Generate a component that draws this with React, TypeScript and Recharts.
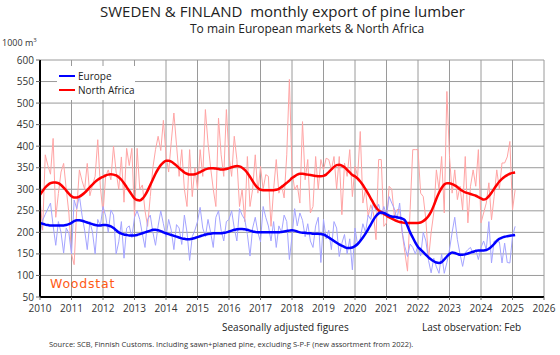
import React from 'react';
import { LineChart, Line, XAxis, YAxis, CartesianGrid } from 'recharts';

// monthly values, Jan 2010 .. Feb 2025 (1000 m3)
const europeMonthly = [
  195, 228, 242, 255, 268, 215, 170, 225, 200, 152, 210, 198,
  150, 275, 255, 285, 240, 205, 160, 225, 200, 150, 230, 215,
  260, 238, 200, 252, 240, 150, 178, 225, 140, 210, 215, 188,
  235, 250, 230, 196, 165, 230, 240, 200, 170, 215, 250, 220,
  190, 230, 205, 160, 218, 210, 172, 240, 200, 135, 190, 205,
  225, 258, 210, 190, 230, 200, 165, 235, 250, 205, 180, 225,
  230, 250, 210, 180, 255, 240, 230, 195, 145, 210, 235, 200,
  178, 260, 235, 215, 180, 225, 165, 215, 200, 240, 225, 137,
  190, 255, 215, 245, 228, 190, 220, 180, 165, 215, 235, 130,
  230, 185, 205, 160, 225, 210, 144, 175, 195, 150, 185, 113,
  210, 170, 185, 220, 200, 240, 230, 268, 250, 265, 240, 260,
  240, 283, 268, 255, 230, 268, 200, 167, 144, 173, 165, 150,
  170, 145, 200, 180, 135, 106, 140, 120, 105, 150, 105, 130,
  160, 200, 235, 183, 150, 121, 153, 160, 165, 150, 160, 137,
  165, 180, 160, 225, 129, 180, 178, 178, 129, 175, 130, 129,
  191, 214,
];

const europeTrend = [
  222, 220, 218, 217, 216, 216, 216, 216, 216, 216, 217, 219,
  222, 226, 228, 228, 227, 225, 223, 221, 219, 217, 216, 216,
  217, 217, 216, 214, 210, 205, 200, 197, 195, 194, 193, 193,
  193, 194, 196, 198, 200, 202, 204, 206, 206, 205, 203, 200,
  198, 196, 194, 192, 190, 188, 186, 185, 184, 184, 185, 187,
  189, 191, 193, 195, 196, 197, 198, 198, 198, 198, 199, 200,
  202, 204, 206, 207, 208, 208, 207, 206, 204, 202, 201, 200,
  200, 200, 200, 200, 200, 200, 200, 200, 201, 202, 203, 204,
  205, 204, 202, 200, 199, 199, 198, 198, 197, 197, 197, 196,
  195, 192, 188, 184, 180, 176, 172, 169, 166, 164, 164, 165,
  168, 173, 180, 188, 197, 207, 218, 229, 238, 244, 246, 245,
  242, 239, 237, 236, 235, 234, 232, 228, 215, 200, 188, 176,
  166, 160, 154, 148, 142, 137, 133, 130, 129, 131, 137, 144,
  150, 153, 152, 150, 148, 148, 149, 151, 153, 155, 157, 158,
  158, 158, 159, 162, 167, 173, 180, 185, 188, 190, 191, 192,
  193, 194,
];

const africaMonthly = [
  280, 205, 380, 355, 335, 418, 235, 290, 340, 360, 300, 245,
  150, 125, 255, 345, 320, 300, 360, 285, 310, 330, 415, 305,
  245, 330, 345, 322, 400, 340, 300, 375, 270, 395, 355, 395,
  235, 395, 300, 310, 250, 214, 283, 350, 392, 423, 390, 460,
  380, 340, 410, 477, 403, 330, 392, 300, 260, 392, 283, 350,
  300, 392, 330, 485, 407, 350, 300, 260, 465, 380, 330, 485,
  376, 330, 423, 369, 260, 300, 225, 376, 260, 300, 380, 291,
  353, 300, 334, 330, 214, 300, 369, 291, 310, 280, 380, 555,
  345, 299, 310, 268, 457, 322, 369, 245, 260, 376, 299, 369,
  345, 372, 369, 345, 376, 300, 376, 241, 361, 330, 392, 283,
  353, 330, 434, 268, 300, 237, 264, 245, 183, 369, 369, 214,
  222, 307, 300, 237, 253, 253, 198, 153, 110, 253, 392, 392,
  392, 291, 283, 229, 137, 200, 245, 345, 300, 376, 245, 527,
  376, 291, 345, 276, 307, 252, 376, 222, 307, 345, 307, 392,
  222, 245, 268, 315, 229, 283, 345, 300, 361, 361, 375, 411,
  252, 299,
];

const africaTrend = [
  287, 296, 304, 310, 314, 316, 316, 314, 310, 304, 297, 290,
  284, 281, 281, 283, 287, 292, 298, 305, 311, 317, 322, 326,
  329, 332, 334, 335, 334, 332, 328, 322, 314, 305, 296, 287,
  279, 275, 274, 278, 286, 297, 310, 323, 336, 347, 356, 362,
  366, 366, 364, 360, 355, 349, 344, 339, 336, 334, 334, 335,
  337, 340, 343, 346, 348, 349, 349, 348, 347, 346, 346, 347,
  349, 351, 353, 354, 353, 350, 345, 338, 329, 319, 310, 303,
  299, 298, 298, 298, 298, 298, 299, 301, 305, 310, 315, 320,
  326, 330, 334, 336, 336, 335, 334, 333, 332, 331, 330, 330,
  331, 334, 340, 346, 352, 356, 357, 355, 351, 345, 339, 333,
  330, 325, 318, 310, 300, 290, 279, 268, 258, 251, 247, 243,
  239, 235, 232, 229, 226, 224, 223, 222, 222, 222, 222, 222,
  222, 223, 226, 231, 238, 248, 262, 278, 292, 303, 311, 314,
  314, 312, 309, 305, 300, 296, 293, 291, 289, 287, 285, 282,
  279, 276, 278, 284, 292, 301, 310, 318, 324, 329, 333, 336,
  338, 339,
];

const xTicks = [2010, 2011, 2012, 2013, 2014, 2015, 2016, 2017, 2018, 2019, 2020, 2021, 2022, 2023, 2024, 2025, 2026];
const yTicks = [50, 100, 150, 200, 250, 300, 350, 400, 450, 500, 550, 600];

const legendItems = [
  { name: 'Europe', color: '#0000ff' },
  { name: 'North Africa', color: '#ff0000' },
];

const data = europeMonthly.map((v, i) => ({
  t: 2010 + i / 12,
  europe: v,
  europeTrend: europeTrend[i],
  africa: africaMonthly[i],
  africaTrend: africaTrend[i],
}));

const FONT = '"Open Sans", "Noto Sans", sans-serif';

const App = () => {
  return (
    <div style={{ position: 'absolute', left: 0, top: 0, width: 560, height: 355, background: '#fff', fontFamily: FONT }}>
      <div style={{ position: 'absolute', top: 1, left: 100, width: 352, textAlign: 'center', fontSize: 15, color: '#222', whiteSpace: 'nowrap' }}>
        SWEDEN &amp; FINLAND&nbsp; monthly export of pine lumber
      </div>
      <div style={{ position: 'absolute', top: 20, left: 190, width: 198, textAlign: 'center', fontSize: 12, color: '#222', whiteSpace: 'nowrap' }}>
        To main European markets &amp; North Africa
      </div>
      <div style={{ position: 'absolute', top: 36, left: 2, fontSize: 9, color: '#333' }}>
        1000 m<sup style={{ fontSize: 6 }}>3</sup>
      </div>
      <LineChart width={560} height={355} data={data} margin={{ top: 60, right: 16, left: 0, bottom: 28 }}>
        <CartesianGrid stroke="#9a9a9a" strokeWidth={1} />
        <XAxis
          dataKey="t"
          type="number"
          domain={[2010, 2026]}
          ticks={xTicks}
          height={30}
          axisLine={{ stroke: '#000', strokeWidth: 2 }}
          tickLine={{ stroke: '#666' }}
          tickSize={3}
          tick={{ fontSize: 10, fill: '#333', fontFamily: FONT, dy: 3 }}
          interval={0}
        />
        <YAxis
          type="number"
          domain={[50, 600]}
          ticks={yTicks}
          width={40}
          axisLine={{ stroke: '#000', strokeWidth: 2 }}
          tickLine={{ stroke: '#666' }}
          tickSize={4}
          tick={{ fontSize: 10, fill: '#333', fontFamily: FONT }}
          interval={0}
        />
        <Line dataKey="africa" type="linear" stroke="#ffa4a4" strokeWidth={1} dot={false} isAnimationActive={false} />
        <Line dataKey="europe" type="linear" stroke="#a4a4ff" strokeWidth={1} dot={false} isAnimationActive={false} />
        <Line dataKey="africaTrend" type="monotone" stroke="#ff0000" strokeWidth={2.5} dot={false} isAnimationActive={false} />
        <Line dataKey="europeTrend" type="monotone" stroke="#0000ff" strokeWidth={2.5} dot={false} isAnimationActive={false} />
      </LineChart>
      <div style={{ position: 'absolute', left: 57, top: 66, width: 78, padding: '3px 0', background: '#fff', fontSize: 10, color: '#222', whiteSpace: 'nowrap' }}>
        {legendItems.map((e) => (
          <div key={e.name} style={{ display: 'flex', alignItems: 'center', height: 14 }}>
            <span style={{ display: 'inline-block', width: 16, height: 2, background: e.color, marginRight: 3, marginLeft: 2 }} />
            <span>{e.name}</span>
          </div>
        ))}
      </div>
      <div style={{ position: 'absolute', top: 276, left: 50, fontSize: 12.5, color: '#ff5a14', letterSpacing: 0.8, fontFamily: '"DejaVu Sans", sans-serif' }}>
        Woodstat
      </div>
      <div style={{ position: 'absolute', top: 320, left: 222, width: 110, textAlign: 'center', fontSize: 10, color: '#222', whiteSpace: 'nowrap' }}>
        Seasonally adjusted figures
      </div>
      <div style={{ position: 'absolute', top: 320, left: 422, width: 86, textAlign: 'center', fontSize: 10, color: '#222', whiteSpace: 'nowrap' }}>
        Last observation: Feb
      </div>
      <div style={{ position: 'absolute', top: 339, left: 49, fontSize: 7.5, color: '#333', whiteSpace: 'nowrap' }}>
        Source: SCB, Finnish Customs. Including sawn+planed pine, excluding S-P-F (new assortment from 2022).
      </div>
    </div>
  );
};

export default App;
